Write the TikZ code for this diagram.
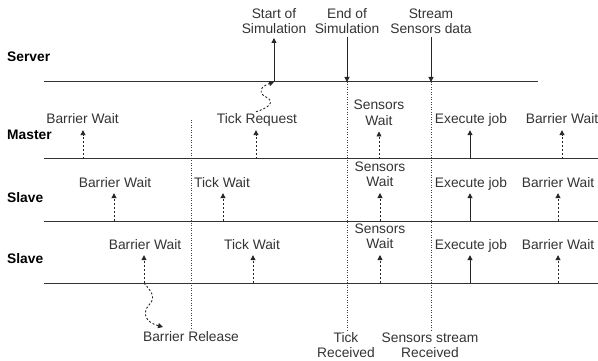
\documentclass[tikz,border=0pt]{standalone}
\usepackage{fontspec}
\setmainfont{Liberation Sans}
\usetikzlibrary{arrows.meta}
\begin{document}
\begin{tikzpicture}[x=1pt,y=-1pt,
  lane/.style={draw=black!80, line width=1pt},
  lbl/.style={font=\fontsize{13.8}{15.5}\selectfont, text=black!80, inner sep=0pt},
  one/.style={lbl, text height=10pt, text depth=3pt, anchor=base},
  two/.style={lbl, align=center},
  head/.style={font=\fontsize{13.8}{16}\selectfont\bfseries, inner sep=0pt, anchor=west},
  tip/.style={-{Triangle[width=5pt,length=5pt]}},
  dup/.style={tip, draw=black!85, line width=0.9pt, dash pattern=on 2pt off 2pt},
  sup/.style={tip, draw=black!85, line width=1pt},
  dots/.style={draw=black!75, line width=0.9pt, dash pattern=on 1pt off 1.5pt},
]
\useasboundingbox (0,0) rectangle (598,361);

% lane headers
\node[head] (hS) at (7,57) {Server};
\node[head] (hM) at (7,135) {Master};
\node[head] (hS1) at (7,198) {Slave};
\node[head] (hS2) at (7,259) {Slave};

% lanes
\coordinate (sL) at (44,82);  \coordinate (sR) at (538,82);
\coordinate (mL) at (44,159); \coordinate (mR) at (598,159);
\coordinate (aL) at (44,221); \coordinate (aR) at (598,221);
\coordinate (bL) at (44,283); \coordinate (bR) at (598,283);
\draw[lane] (sL) -- (sR);
\draw[lane] (mL) -- (mR);
\draw[lane] (aL) -- (aR);
\draw[lane] (bL) -- (bR);

% server events
\coordinate (sos) at (274,82);
\coordinate (eos) at (347,82);
\coordinate (ssd) at (431,82);
\node[two, anchor=south] (sosT) at (274,34) {Start of\\Simulation};
\node[two, anchor=south] (eosT) at (347,34) {End of\\Simulation};
\node[two, anchor=south] (ssdT) at (431,34) {Stream\\Sensors data};
\draw[sup, shorten >=4pt] (sos) -- (sosT.south);
\draw[sup, shorten <=3pt] (eosT.south) -- (eos);
\draw[sup, shorten <=3pt] (ssdT.south) -- (ssd);

% bottom labels and dotted verticals
\node[two] (brel) at (191,337) {Barrier Release};
\node[two] (tick) at (346,345) {Tick\\Received};
\node[two] (ssr) at (430,345) {Sensors stream\\Received};
\coordinate (brTop) at (191,120);
\draw[dots, shorten >=2pt] (brTop) -- (brel.north);
\draw[dots, shorten >=2pt] (eos) -- (eos |- tick.north);
\draw[dots, shorten >=2pt] (ssd) -- (ssd |- ssr.north);

% Master row
\coordinate (m1) at (83,159);  \node[one] (mBW) at (82.5,124) {Barrier Wait};
\coordinate (m2) at (256,159); \node[one] (mTR) at (257,124) {Tick Request};
\coordinate (m3) at (379,159); \node[two, anchor=south] (mSW) at (379,125.5) {Sensors\\Wait};
\coordinate (m4) at (470,159); \node[one] (mEJ) at (471,124) {Execute job};
\coordinate (m5) at (562,159); \node[one] (mBW2) at (562,124) {Barrier Wait};
\draw[dup, shorten >=3pt] (m1) -- (m1 |- mBW.south);
\draw[dup, shorten >=3pt] (m2) -- (m2 |- mTR.south);
\draw[dup, shorten >=6pt] (m3) -- (m3 |- mSW.south);
\draw[sup, shorten >=3pt] (m4) -- (m4 |- mEJ.south);
\draw[dup, shorten >=3pt] (m5) -- (m5 |- mBW2.south);

% Slave 1 row
\coordinate (a1) at (114,221); \node[one] (aBW) at (115,187) {Barrier Wait};
\coordinate (a2) at (223,221); \node[one] (aTW) at (222,187) {Tick Wait};
\coordinate (a3) at (380,221); \node[two, anchor=south] (aSW) at (380,187) {Sensors\\Wait};
\coordinate (a4) at (470,221); \node[one] (aEJ) at (471,187) {Execute job};
\coordinate (a5) at (558,221); \node[one] (aBW2) at (558,187) {Barrier Wait};
\draw[dup, shorten >=3pt] (a1) -- (a1 |- aBW.south);
\draw[dup, shorten >=3pt] (a2) -- (a2 |- aTW.south);
\draw[dup, shorten >=6pt] (a3) -- (a3 |- aSW.south);
\draw[sup, shorten >=3pt] (a4) -- (a4 |- aEJ.south);
\draw[dup, shorten >=3pt] (a5) -- (a5 |- aBW2.south);

% Slave 2 row
\coordinate (b1) at (144,283); \node[one] (bBW) at (145,249) {Barrier Wait};
\coordinate (b2) at (253,283); \node[one] (bTW) at (252,249) {Tick Wait};
\coordinate (b3) at (380,283); \node[two, anchor=south] (bSW) at (380,249) {Sensors\\Wait};
\coordinate (b4) at (470,283); \node[one] (bEJ) at (471,249) {Execute job};
\coordinate (b5) at (558,283); \node[one] (bBW2) at (558,249) {Barrier Wait};
\draw[dup, shorten >=3pt] (b1) -- (b1 |- bBW.south);
\draw[dup, shorten >=3pt] (b2) -- (b2 |- bTW.south);
\draw[dup, shorten >=6pt] (b3) -- (b3 |- bSW.south);
\draw[sup, shorten >=3pt] (b4) -- (b4 |- bEJ.south);
\draw[dup, shorten >=3pt] (b5) -- (b5 |- bBW2.south);

% wavy connectors
\draw[dup] ([xshift=-1pt,yshift=2pt]mTR.north) .. controls (268,108) and (276,102) .. (266,97)
  .. controls (256,92) and (262,86) .. (sos);
\coordinate (brTip) at (163,327);
\draw[dup] (b1) .. controls (150,290) and (157,297) .. (149,305)
  .. controls (142,313) and (145,322) .. (brTip);
\end{tikzpicture}
\end{document}
